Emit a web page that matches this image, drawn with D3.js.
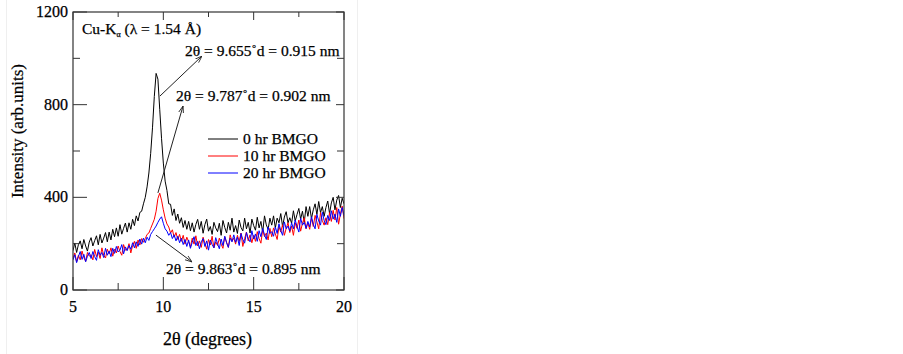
<!DOCTYPE html>
<html>
<head>
<meta charset="utf-8">
<script src="https://cdn.jsdelivr.net/npm/d3@7"></script>
<style>
  body { margin: 0; background: #fff; }
  text { font-family: 'Liberation Serif', 'Times New Roman', serif; fill: #000; stroke: #000; stroke-width: 0.25px; }
</style>
</head>
<body>
<svg id="chart" width="903" height="354"></svg>
<script>
// scan grid: 5 to 20 degrees, 0.1 step
const angleStart = 5
const angleStep = 0.1

const hr0 = [
  170, 203, 162, 196, 212, 178, 218, 190, 168, 207,
  226, 190, 213, 234, 195, 240, 203, 224, 248, 208,
  250, 216, 262, 230, 268, 232, 282, 241, 266, 289,
  250, 290, 262, 305, 278, 320, 298, 335, 340, 372,
  400, 445, 505, 590, 700, 835, 935, 910, 780, 655,
  548, 470, 430, 372, 370, 322, 350, 300, 328, 288,
  312, 270, 300, 262, 296, 256, 290, 250, 283, 305,
  262, 296, 245, 282, 306, 254, 274, 240, 292, 268,
  252, 288, 236, 300, 270, 246, 292, 258, 310, 250,
  278, 244, 302, 270, 255, 310, 264, 292, 246, 306,
  278, 258, 314, 268, 296, 250, 320, 281, 262, 310,
  280, 320, 268, 310, 290, 330, 274, 315, 338, 290,
  312, 288, 342, 298, 326, 352, 306, 340, 292, 360,
  318, 360, 308, 346, 372, 326, 382, 334, 360, 318,
  356, 384, 330, 376, 400, 346, 388, 408, 356, 396,
  372
]

const hr10 = [
  136, 160, 122, 150, 130, 168, 140, 124, 162, 146,
  152, 130, 175, 144, 164, 136, 182, 150, 138, 176,
  156, 182, 146, 176, 160, 190, 166, 150, 196, 172,
  174, 200, 160, 192, 210, 180, 216, 194, 222, 206,
  222, 240, 246, 266, 285, 305, 340, 395, 418, 388,
  346, 310, 285, 272, 246, 260, 228, 248, 218, 240,
  210, 236, 198, 228, 208, 186, 224, 198, 234, 190,
  212, 184, 228, 202, 176, 218, 194, 232, 182, 208,
  192, 224, 198, 180, 230, 206, 184, 238, 210, 224,
  198, 236, 210, 246, 188, 222, 250, 212, 238, 204,
  236, 210, 252, 222, 202, 260, 230, 246, 216, 266,
  230, 268, 242, 218, 274, 250, 282, 236, 266, 290,
  248, 276, 236, 290, 266, 302, 254, 288, 312, 264,
  290, 262, 312, 274, 322, 294, 264, 334, 300, 280,
  312, 282, 334, 296, 344, 302, 356, 284, 328, 362,
  308
]

const hr20 = [
  130, 152, 118, 144, 166, 132, 154, 122, 146, 162,
  136, 166, 144, 128, 174, 150, 162, 140, 180, 150,
  168, 144, 180, 158, 188, 164, 172, 196, 156, 186,
  170, 192, 176, 204, 182, 208, 188, 220, 198, 224,
  204, 228, 214, 240, 252, 264, 276, 292, 306, 316,
  288, 264, 254, 236, 248, 222, 238, 212, 232, 204,
  224, 196, 218, 188, 216, 180, 206, 230, 192, 210,
  178, 208, 222, 188, 212, 172, 216, 196, 182, 226,
  200, 178, 220, 192, 232, 204, 184, 224, 208, 238,
  206, 228, 192, 244, 218, 202, 248, 222, 208, 256,
  220, 242, 210, 256, 230, 266, 238, 218, 272, 244,
  252, 232, 272, 244, 286, 256, 236, 294, 264, 276,
  254, 290, 264, 302, 274, 250, 310, 280, 292, 266,
  296, 272, 316, 284, 264, 326, 298, 280, 336, 300,
  282, 322, 300, 342, 306, 328, 292, 350, 318, 356,
  322
]

const seriesNames = ['0 hr BMGO', '10 hr BMGO', '20 hr BMGO']
const seriesColors = ['#000000', '#ff0000', '#0000ff']
const xTicks = [5, 10, 15, 20]
const xMinor = [7.5, 12.5, 17.5]
const yTicks = [0, 400, 800, 1200]
const yMinor = [200, 600, 1000]

// peak notes in data units: label pos, arrow from -> to
const notes = [
  { text: '2θ = 9.655˚d = 0.915 nm', tx: 11.2, ty: 1010, x1: 9.81, y1: 837, x2: 12.14, y2: 1010 },
  { text: '2θ = 9.787˚d = 0.902 nm', tx: 10.7, ty: 816, x1: 9.70, y1: 419, x2: 11.09, y2: 794 },
  { text: '2θ = 9.863˚d = 0.895 nm', tx: 10.15, ty: 69, x1: 9.59, y1: 237, x2: 11.59, y2: 121 }
]

const margin = { top: 12, right: 559, bottom: 64, left: 73 }
const svg = d3.select('#chart')
const W = +svg.attr('width'), H = +svg.attr('height')
const w = W - margin.left - margin.right
const h = H - margin.top - margin.bottom

// faint outer frame of the figure
svg.append('rect')
  .attr('x', 6.5).attr('y', -1).attr('width', 351).attr('height', 356)
  .attr('fill', 'none').attr('stroke', '#efefef')

const x = d3.scaleLinear().domain([5, 20]).range([0, w])
const y = d3.scaleLinear().domain([0, 1200]).range([h, 0])

const defs = svg.append('defs')
defs.append('marker')
  .attr('id', 'arrow')
  .attr('viewBox', '0 0 10 10')
  .attr('refX', 10).attr('refY', 5)
  .attr('markerWidth', 7).attr('markerHeight', 7)
  .attr('markerUnits', 'userSpaceOnUse')
  .attr('orient', 'auto')
  .append('path')
  .attr('d', 'M0,1.5 L10,5 L0,8.5')
  .attr('fill', 'none').attr('stroke', '#222').attr('stroke-width', 1.2)

defs.append('clipPath').attr('id', 'clip')
  .append('rect').attr('width', w).attr('height', h)

const g = svg.append('g').attr('transform', `translate(${margin.left},${margin.top})`)

// curves
const line = d3.line()
  .x((d, i) => x(angleStart + i * angleStep))
  .y(d => y(d))

const plotG = g.append('g').attr('clip-path', 'url(#clip)')
;[hr0, hr10, hr20].forEach((s, i) => {
  plotG.append('path')
    .datum(s)
    .attr('d', line)
    .attr('fill', 'none')
    .attr('stroke', seriesColors[i])
    .attr('stroke-width', 1)
})

// frame
g.append('rect')
  .attr('width', w).attr('height', h)
  .attr('fill', 'none').attr('stroke', '#333').attr('stroke-width', 1.2)

// ticks, inward on every side
const tickG = g.append('g').attr('stroke', '#333').attr('stroke-width', 1)
xTicks.concat(xMinor).forEach(t => {
  const big = xTicks.includes(t)
  tickG.append('line').attr('x1', x(t)).attr('x2', x(t)).attr('y1', h).attr('y2', h - (big ? 13 : 7))
  tickG.append('line').attr('x1', x(t)).attr('x2', x(t)).attr('y1', 0).attr('y2', big ? 8 : 5)
})
yTicks.concat(yMinor).forEach(t => {
  const big = yTicks.includes(t)
  tickG.append('line').attr('y1', y(t)).attr('y2', y(t)).attr('x1', 0).attr('x2', big ? 14 : 7)
  tickG.append('line').attr('y1', y(t)).attr('y2', y(t)).attr('x1', w).attr('x2', w - (big ? 8 : 7))
})

// tick labels
g.selectAll('.xl').data(xTicks).enter().append('text')
  .attr('x', d => x(d)).attr('y', h + 22)
  .attr('text-anchor', 'middle')
  .style('font-size', '16px')
  .text(d => d)

g.selectAll('.yl').data(yTicks).enter().append('text')
  .attr('x', -5).attr('y', d => y(d) + 5)
  .attr('text-anchor', 'end')
  .style('font-size', '16px')
  .text(d => d)

// axis titles
g.append('text')
  .attr('x', w / 2 - 1).attr('y', h + 55)
  .attr('text-anchor', 'middle')
  .style('font-size', '18px')
  .text('2θ (degrees)')

g.append('text')
  .attr('transform', `translate(${-50},${h / 2 - 20}) rotate(-90)`)
  .attr('text-anchor', 'middle')
  .style('font-size', '17px')
  .text('Intensity (arb.units)')

// Cu-K alpha label
const cu = g.append('text')
  .attr('x', x(5.5)).attr('y', y(1105))
  .style('font-size', '15.5px')
cu.append('tspan').text('Cu-K')
cu.append('tspan').attr('dy', 3).style('font-size', '8px').text('α')
cu.append('tspan').attr('dy', -3).text(' (λ = 1.54 Å)')

// peak annotations
notes.forEach(n => {
  g.append('line')
    .attr('x1', x(n.x1)).attr('y1', y(n.y1))
    .attr('x2', x(n.x2)).attr('y2', y(n.y2))
    .attr('stroke', '#222').attr('stroke-width', 1)
    .attr('marker-end', 'url(#arrow)')
  g.append('text')
    .attr('x', x(n.tx)).attr('y', y(n.ty))
    .style('font-size', '15.5px')
    .text(n.text)
})

// legend
const lg = g.append('g').attr('transform', 'translate(135,127)')
seriesNames.forEach((name, i) => {
  lg.append('line')
    .attr('x1', 0).attr('x2', 30)
    .attr('y1', i * 17).attr('y2', i * 17)
    .attr('stroke', seriesColors[i]).attr('stroke-width', 1)
  lg.append('text')
    .attr('x', 35).attr('y', i * 17 + 5)
    .style('font-size', '15.5px')
    .text(name)
})
</script>
</body>
</html>
